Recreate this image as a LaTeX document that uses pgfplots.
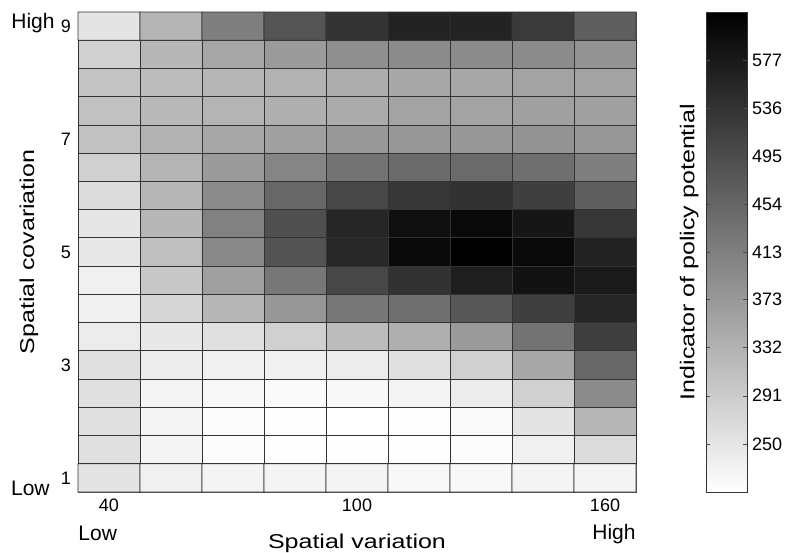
\documentclass[border=0pt]{standalone}
\usepackage{fontspec}
\setmainfont{Liberation Sans}
\newfontfamily\labelfont[FakeStretch=1.25]{Liberation Sans}
\usepackage{pgfplots}
\pgfplotsset{compat=1.18}

\begin{document}
\begin{tikzpicture}
\useasboundingbox (-39pt,-30pt) rectangle (354pt,246pt);
\begin{axis}[at={(0,0)}, anchor=south west, scale only axis,
  width=279pt, height=240pt, clip=false,
  xmin=32.5, xmax=167.5, ymin=0.75, ymax=9.25,
  xtick={40,100,160}, ytick={1,3,5,7,9},
  tick style={draw=none},
  axis line style={black!70},
  /pgf/number format/assume math mode=true,
  tick label style={font=\fontsize{9}{10}\selectfont},
  xlabel={Spatial variation}, ylabel={Spatial covariation},
  xlabel style={font=\labelfont\fontsize{10}{12}\selectfont, at={(rel axis cs:0.5,0)}, anchor=base, yshift=-28pt},
  ylabel style={font=\labelfont\fontsize{10}{12}\selectfont, at={(rel axis cs:0,0.5)}, anchor=center, yshift=24.5pt},
  colormap={wb}{gray(0cm)=(1); gray(1cm)=(0)},
  point meta min=209, point meta max=618,
  colorbar, colorbar/width=20.5pt,
  colorbar style={scale only axis, height=240pt,
    at={(parent axis.north east)}, anchor=north west, xshift=26.5pt,
    ytick={250,291,332,373,413,454,495,536,577},
    ytick pos=both, yticklabel pos=right, ytick align=inside,
    major tick length=2pt, tick style={black!70},
    axis line style={black!80},
    /pgf/number format/assume math mode=true,
    yticklabel style={font=\fontsize{9}{10}\selectfont, xshift=-1pt},
    ylabel={Indicator of policy potential},
    ylabel style={font=\labelfont\fontsize{10}{12}\selectfont, at={(rel axis cs:0,0.5)}, anchor=center, yshift=8.5pt}},
]
\addplot[matrix plot*, point meta=explicit, mesh/cols=9, shader=faceted, faceted color=black!80] table[meta=v] {
x y v
40 1 252
55 1 233
70 1 227
85 1 227
100 1 227
115 1 220
130 1 220
145 1 227
160 1 227
40 1.5 259
55 1.5 227
70 1.5 214
85 1.5 211
100 1.5 210
115 1.5 211
130 1.5 214
145 1.5 233
160 1.5 265
40 2 259
55 2 227
70 2 214
85 2 211
100 2 209
115 2 211
130 2 217
145 2 252
160 2 323
40 2.5 259
55 2.5 227
70 2.5 220
85 2.5 217
100 2.5 220
115 2.5 227
130 2.5 240
145 2.5 284
160 2.5 393
40 3 259
55 3 240
70 3 233
85 3 233
100 3 240
115 3 259
130 3 284
145 3 349
160 3 451
40 3.5 240
55 3.5 246
70 3.5 259
85 3.5 284
100 3.5 316
115 3.5 336
130 3.5 368
145 3.5 432
160 3.5 515
40 4 233
55 4 272
70 4 323
85 4 374
100 4 425
115 4 438
130 4 477
145 4 515
160 4 554
40 4.5 233
55 4.5 297
70 4.5 361
85 4.5 425
100 4.5 502
115 4.5 535
130 4.5 567
145 4.5 586
160 4.5 573
40 5 246
55 5 310
70 5 397
85 5 483
100 5 551
115 5 599
130 5 618
145 5 599
160 5 560
40 5.5 249
55 5.5 323
70 5.5 409
85 5.5 490
100 5.5 554
115 5.5 592
130 5.5 599
145 5.5 580
160 5.5 528
40 6 265
55 6 323
70 6 393
85 6 451
100 6 502
115 6 528
130 6 535
145 6 515
160 6 464
40 6.5 284
55 6.5 329
70 6.5 368
85 6.5 403
100 6.5 432
115 6.5 445
130 6.5 445
145 6.5 438
160 6.5 413
40 7 307
55 7 332
70 7 349
85 7 361
100 7 371
115 7 374
130 7 374
145 7 381
160 7 374
40 7.5 307
55 7.5 320
70 7.5 329
85 7.5 336
100 7.5 342
115 7.5 355
130 7.5 355
145 7.5 361
160 7.5 361
40 8 304
55 8 316
70 8 326
85 8 332
100 8 339
115 8 349
130 8 349
145 8 355
160 8 355
40 8.5 284
55 8.5 323
70 8.5 349
85 8.5 368
100 8.5 387
115 8.5 393
130 8.5 393
145 8.5 393
160 8.5 381
40 9 252
55 9 329
70 9 413
85 9 482
100 9 533
115 9 560
130 9 560
145 9 522
160 9 464
};
\node[anchor=base east, inner sep=0pt, font=\fontsize{10.5}{12}\selectfont] at (rel axis cs:0,1) [xshift=-11.5pt, yshift=-8pt] {High};
\node[anchor=base east, inner sep=0pt, font=\fontsize{10.5}{12}\selectfont] at (rel axis cs:0,0) [xshift=-14pt, yshift=-1.5pt] {Low};
\node[anchor=base west, inner sep=0pt, font=\fontsize{10.5}{12}\selectfont] at (rel axis cs:0,0) [yshift=-24pt] {Low};
\node[anchor=base east, inner sep=0pt, font=\fontsize{10.5}{12}\selectfont] at (rel axis cs:1,0) [yshift=-23.5pt] {High};
\end{axis}
\end{tikzpicture}
\end{document}
